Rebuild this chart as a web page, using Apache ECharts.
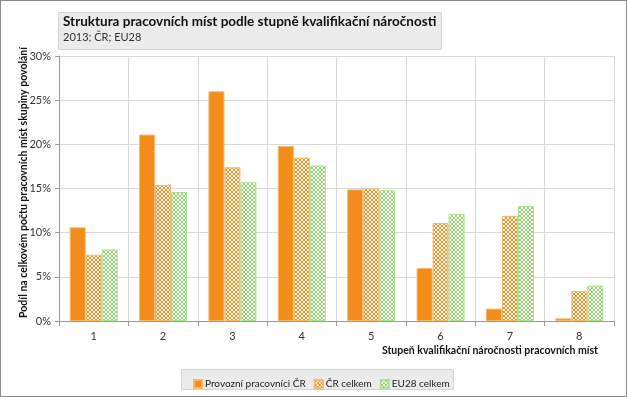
<!DOCTYPE html>
<html>
<head>
<meta charset="utf-8">
<script src="https://cdn.jsdelivr.net/npm/echarts@6/dist/echarts.min.js"></script>
<style>
  html, body { margin: 0; padding: 0; background: #fff; }
  #chart { position: absolute; left: 0; top: 0; width: 625px; height: 395px; border: 1px solid #8a8a8a; }
</style>
</head>
<body>
<div id="chart"></div>
<script>
const categories = ['1', '2', '3', '4', '5', '6', '7', '8'];
const provozni = [10.6, 21.1, 26.0, 19.8, 14.9, 6.0, 1.4, 0.3];
const crCelkem = [7.5, 15.4, 17.4, 18.5, 15.0, 11.1, 11.9, 3.4];
const euCelkem = [8.1, 14.6, 15.7, 17.6, 14.8, 12.1, 13.0, 4.0];

const ORANGE = '#f28c1a';
const GREEN = '#8fd46e';
const FONT = 'Lato, "Open Sans", sans-serif';

// small checker pattern like the office fill
function checker(color) {
  var c = document.createElement('canvas');
  c.width = 4; c.height = 4;
  var ctx = c.getContext('2d');
  ctx.fillStyle = '#ffffff';
  ctx.fillRect(0, 0, 4, 4);
  ctx.fillStyle = color;
  ctx.fillRect(0, 0, 2, 2);
  ctx.fillRect(2, 2, 2, 2);
  return { image: c, repeat: 'repeat' };
}

var chartDom = document.getElementById('chart');
var myChart = echarts.init(chartDom);

var option = {
  animation: false,
  textStyle: { fontFamily: FONT },
  graphic: [
    {
      type: 'rect',
      left: 57, top: 11,
      shape: { width: 383, height: 37 },
      style: { fill: '#ebebeb', stroke: '#d4d4d4', lineWidth: 1 }
    },
    {
      type: 'rect',
      left: 180, top: 368,
      shape: { width: 272, height: 20 },
      style: { fill: '#ebebeb', stroke: '#d4d4d4', lineWidth: 1 }
    }
  ],
  title: {
    text: 'Struktura pracovních míst podle stupně kvalifikační náročnosti',
    subtext: '2013; ČR; EU28',
    left: 58, top: 10,
    itemGap: 3,
    padding: [4, 4],
    textStyle: { fontSize: 13.5, fontWeight: 'bold', color: '#111', fontFamily: FONT },
    subtextStyle: { fontSize: 11, color: '#333', fontFamily: FONT }
  },
  legend: {
    left: 187, top: 373,
    itemWidth: 8, itemHeight: 8,
    itemGap: 8,
    icon: 'rect',
    textStyle: { fontSize: 10, color: '#222', fontFamily: FONT, padding: [0, 0, 0, -2] },
    data: ['Provozní pracovníci ČR', 'ČR celkem', 'EU28 celkem']
  },
  grid: { left: 58, right: 12, top: 55, bottom: 75 },
  xAxis: {
    type: 'category',
    data: categories,
    name: 'Stupeň kvalifikační náročnosti pracovních míst',
    nameLocation: 'end',
    nameGap: 0,
    nameTextStyle: {
      fontSize: 10.5, fontWeight: 'bold', color: '#111',
      align: 'right', verticalAlign: 'top', padding: [24, 16, 0, 0]
    },
    axisLine: { lineStyle: { color: '#999' } },
    axisTick: { show: true, lineStyle: { color: '#999' }, length: 5 },
    splitLine: { show: true, lineStyle: { color: '#d9d9d9' } },
    axisLabel: { fontSize: 11, color: '#333', margin: 10 }
  },
  yAxis: {
    type: 'value',
    min: 0, max: 30, interval: 5,
    name: 'Podíl na celkovém počtu pracovních míst skupiny povolání',
    nameLocation: 'middle',
    nameGap: 30,
    nameMoveOverlap: false,
    nameTextStyle: { fontSize: 10.5, fontWeight: 'bold', color: '#111', padding: [0, 0, 0, 12] },
    axisLine: { show: true, lineStyle: { color: '#999' } },
    axisTick: { show: true, lineStyle: { color: '#999' }, length: 4 },
    splitLine: { lineStyle: { color: '#d9d9d9' } },
    axisLabel: { formatter: '{value}%', fontSize: 11, color: '#333' }
  },
  series: [
    {
      name: 'Provozní pracovníci ČR',
      type: 'bar',
      data: provozni,
      barWidth: 16,
      barGap: '0%',
      itemStyle: { color: ORANGE, borderColor: '#f7b766', borderWidth: 1 }
    },
    {
      name: 'ČR celkem',
      type: 'bar',
      data: crCelkem,
      barWidth: 16,
      itemStyle: { color: checker(ORANGE), borderColor: '#f7b766', borderWidth: 1 }
    },
    {
      name: 'EU28 celkem',
      type: 'bar',
      data: euCelkem,
      barWidth: 16,
      itemStyle: { color: checker(GREEN), borderColor: '#a9e28e', borderWidth: 1 }
    }
  ]
};

myChart.setOption(option);
</script>
</body>
</html>
